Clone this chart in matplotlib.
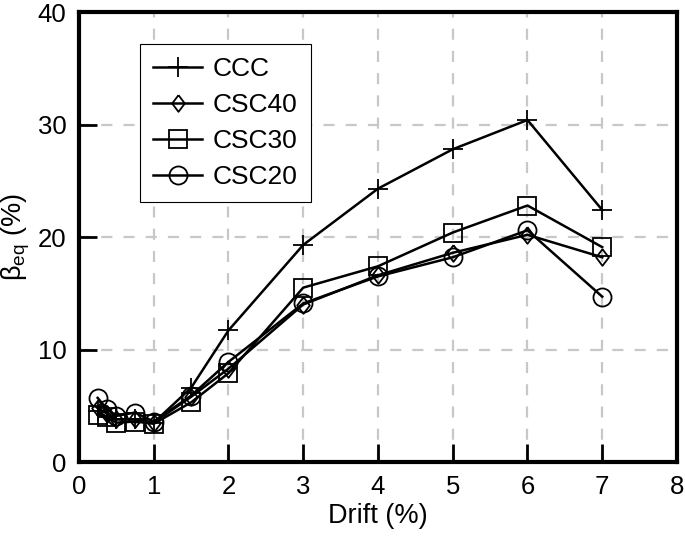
import numpy as np
import matplotlib
matplotlib.use("Agg")
from matplotlib import pyplot as plt

plt.rcParams['font.family'] = ['Liberation Sans', 'DejaVu Sans']
plt.rcParams['mathtext.fontset'] = 'custom'
plt.rcParams['mathtext.rm'] = 'Liberation Sans'
plt.rcParams['mathtext.it'] = 'Liberation Sans:italic'

# Drift levels (%)
drift = [0.25, 0.375, 0.5, 0.75, 1.0, 1.5, 2, 3, 4, 5, 6, 7]

# Equivalent damping ratio (%)
ccc = [4.5, 4.0, 3.8, 3.8, 3.5, 6.6, 11.7, 19.3, 24.3, 27.8, 30.4, 22.4]
csc40 = [4.8, 4.3, 3.8, 3.8, 3.5, 5.8, 8.3, 14.0, 16.6, 18.6, 20.2, 18.2]
csc30 = [4.2, 4.0, 3.5, 3.6, 3.4, 5.3, 7.9, 15.5, 17.4, 20.4, 22.8, 19.1]
csc20 = [5.7, 4.7, 4.1, 4.4, 3.6, 5.9, 8.9, 14.1, 16.5, 18.2, 20.6, 14.7]

names = ["CCC", "CSC40", "CSC30", "CSC20"]
# diamond a bit narrower than tall
diamond = [(0, 1), (0.76, 0), (0, -1), (-0.76, 0), (0, 1)]
markers = ["+", diamond, "s", "o"]
sizes = [14, 12, 12.5, 13]

fig = plt.figure(figsize=(6.85, 5.36), dpi=100)
ax = fig.add_axes([0.1153, 0.138, 0.873, 0.8396])

for y, name, m, ms in zip([ccc, csc40, csc30, csc20], names, markers, sizes):
    ax.plot(drift, y, color='black', linewidth=1.8, marker=m, markersize=ms,
            markerfacecolor='none', markeredgecolor='black', markeredgewidth=1.3,
            label=name)

ax.set_xlim(0, 8)
ax.set_ylim(0, 40)
ax.set_xticks(np.arange(0, 9, 1))
ax.set_yticks(np.arange(0, 41, 10))
ax.grid(True, color='#c8c8c8', linestyle=(0, (5, 5)), linewidth=1.6)
ax.set_axisbelow(True)

for s in ax.spines.values():
    s.set_linewidth(3)
ax.tick_params(direction='in', length=13, width=2, labelsize=18.5, pad=9,
               top=False, right=False)

ax.set_xlabel("Drift (%)", fontsize=19.5, labelpad=3)
ax.set_ylabel(r"$\mathregular{\beta_{eq}}$ (%)", fontsize=19.5, labelpad=4)

leg = ax.legend(loc='upper left', bbox_to_anchor=(0.102, 0.929), borderaxespad=0,
                fontsize=19, fancybox=False, edgecolor='black', framealpha=1,
                handlelength=1.85, labelspacing=0.45, borderpad=0.5,
                handletextpad=0.4)
leg.get_frame().set_linewidth(0.8)

fig.savefig("out.png", dpi=100)
